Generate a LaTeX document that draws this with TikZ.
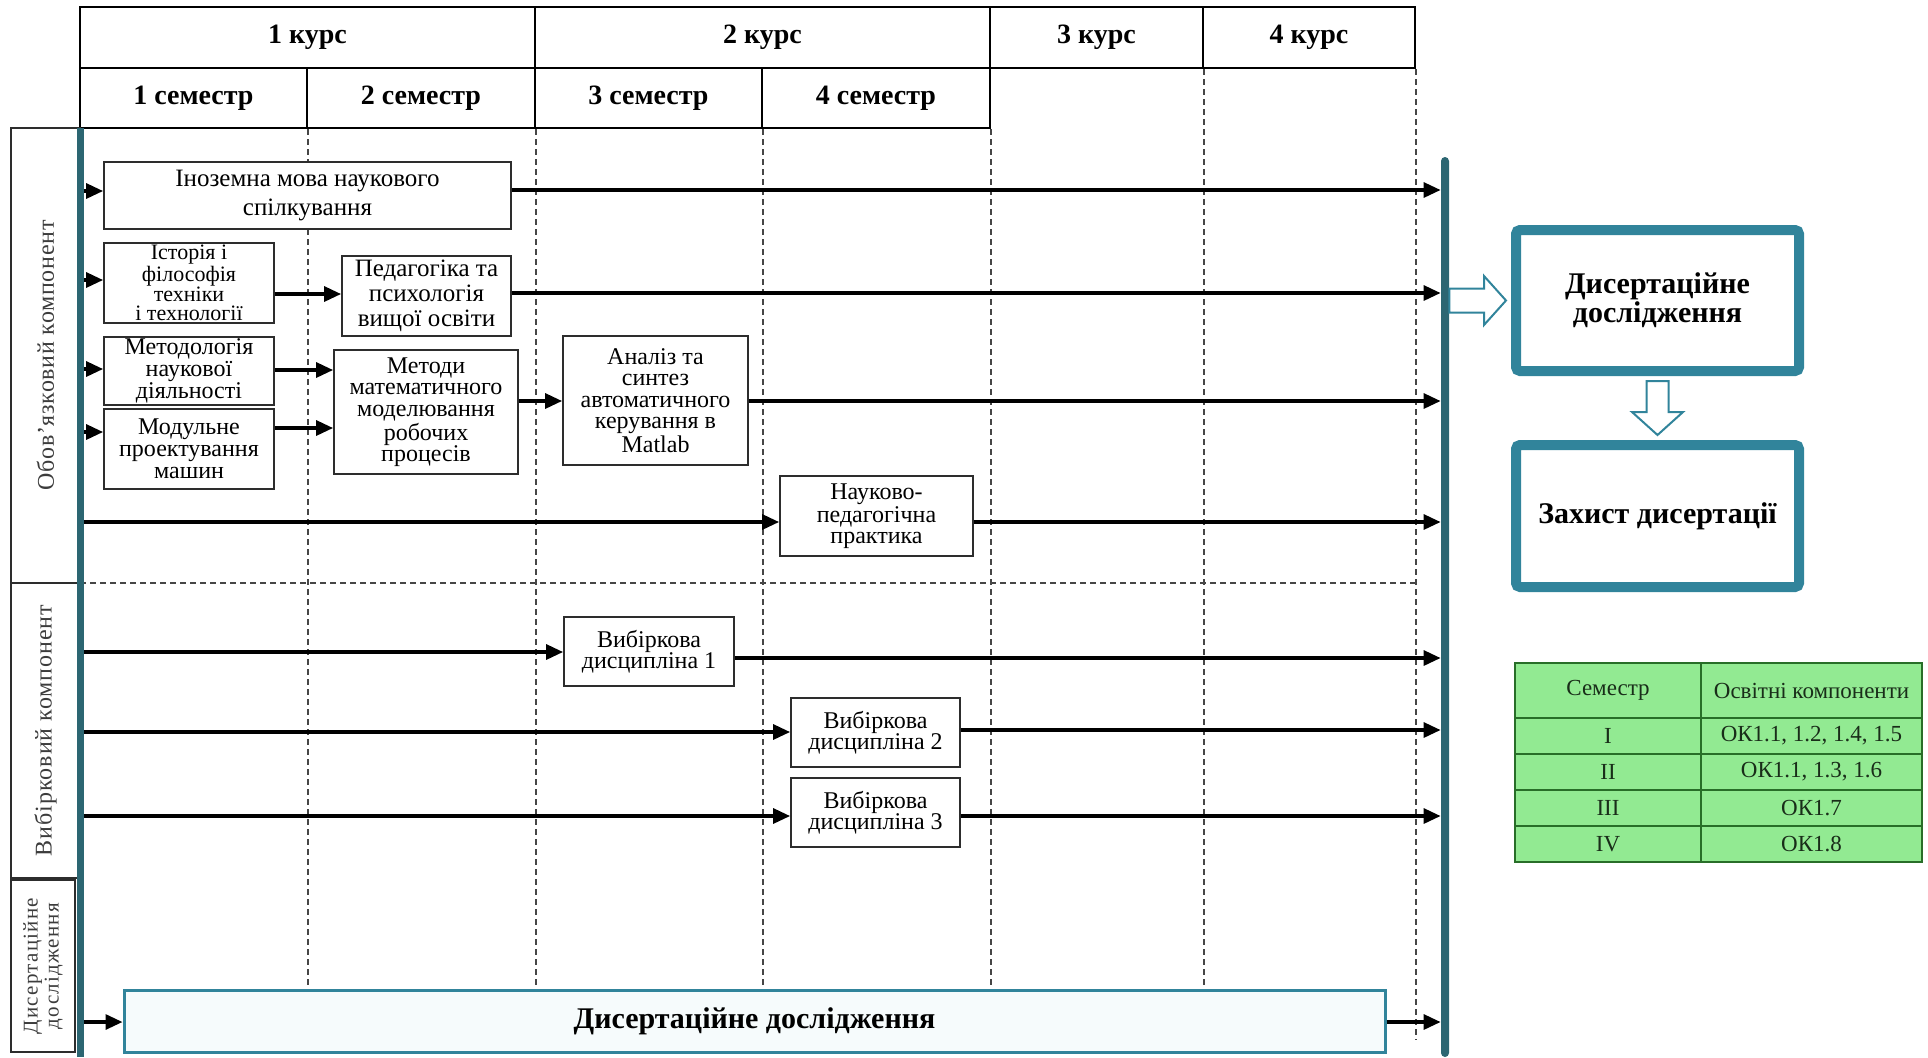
\documentclass[tikz,border=0pt]{standalone}
\usepackage{fontspec}
\setmainfont{Liberation Serif}
\usetikzlibrary{arrows.meta,calc}
\definecolor{tealbar}{RGB}{44,102,114}
\definecolor{tealbox}{RGB}{49,132,155}
\definecolor{tgreen}{RGB}{146,234,146}
\definecolor{tborder}{RGB}{40,110,40}
\definecolor{ttext}{RGB}{25,45,25}
\definecolor{gridc}{RGB}{70,70,70}
\definecolor{boxline}{RGB}{45,45,45}
\definecolor{lanetext}{RGB}{60,60,60}
\definecolor{disfill}{RGB}{246,251,252}
\newcommand{\myfs}[2]{\fontsize{#1}{#2}\selectfont}

\begin{document}
\begin{tikzpicture}[x=0.5pt,y=-0.5pt,
  sz/.style 2 args={minimum width=#1*0.5pt, minimum height=#2*0.5pt},
  hcell/.style={draw=black, line width=1pt, inner sep=0pt, font=\bfseries\myfs{14}{16}},
  lane/.style={draw=boxline, line width=0.7pt, inner sep=0pt, align=center, text=lanetext, rotate=90},
  box/.style={draw=boxline, line width=0.9pt, fill=white, inner sep=0pt, align=center, text=black},
  arr/.style={-{Triangle[length=8.5pt,width=7.5pt]}, line width=1.6pt},
  gridl/.style={draw=gridc, line width=0.6pt, dash pattern=on 3pt off 2pt},
  bar/.style={fill=tealbar, inner sep=0pt, draw=none},
  bigbox/.style={draw=tealbox, line width=5pt, fill=white, rounded corners=2pt, inner sep=0pt, align=center, font=\bfseries\myfs{15}{14.5}},
  hollow/.style={draw=tealbox, line width=1pt, fill=white, line join=miter},
  tcell/.style={draw=tborder, line width=0.6pt, fill=tgreen, inner sep=0pt, text=ttext, font=\myfs{11.5}{13}}
]
\useasboundingbox (0,0) rectangle (1928,1057);

% header
\node[hcell, sz={455}{61}] (k1) at (307.5,37.5) {1 курс};
\node[hcell, sz={455}{61}] (k2) at (762.5,37.5) {2 курс};
\node[hcell, sz={213}{61}] (k3) at (1096.5,37.5) {3 курс};
\node[hcell, sz={212}{61}] (k4) at (1309,37.5) {4 курс};
\node[hcell, sz={227}{60}] (s1) at (193.5,98) {1 семестр};
\node[hcell, sz={228}{60}] (s2) at (421,98) {2 семестр};
\node[hcell, sz={227}{60}] (s3) at (648.5,98) {3 семестр};
\node[hcell, sz={228}{60}] (s4) at (876,98) {4 семестр};

% dashed grid
\draw[gridl] (s1.south east) -- (s1.south east |- 0,989);
\draw[gridl] (s2.south east) -- (s2.south east |- 0,989);
\draw[gridl] (s3.south east) -- (s3.south east |- 0,989);
\draw[gridl] (s4.south east) -- (s4.south east |- 0,989);
\draw[gridl] (k3.south east) -- (k3.south east |- 0,989);
\draw[gridl] (k4.south east) -- (k4.south east |- 0,1040);
\draw[gridl] (80,583) -- (k4.south east |- 0,583);

% lanes
\node[lane, sz={455}{69}, font=\myfs{12}{14}\addfontfeature{LetterSpace=3}] (L1) at (45.5,355.5) {Обов’язковий компонент};
\node[lane, sz={295}{69}, font=\myfs{12}{14}\addfontfeature{LetterSpace=4}] (L2) at (45.5,730.5) {Вибірковий компонент};
\node[lane, sz={172}{64}, font=\myfs{10.5}{10.5}\addfontfeature{LetterSpace=6}] (L3) at (43,966) {Дисертаційне\\дослідження};

% teal bars
\node[bar, sz={7}{929}] (LB) at (80,592.5) {};
\node[bar, sz={8}{900}, rounded corners=2pt] (RB) at (1445,607) {};

% boxes
\node[box, sz={407}{67}, font=\myfs{12.5}{14.5}] (ino) at (307.5,195.5) {Іноземна мова наукового\\спілкування};
\node[box, sz={170}{80}, font=\myfs{11}{9.8}] (ist) at (189,283) {Історія і\\філософія\\техніки\\і технології};
\node[box, sz={169}{80}, font=\myfs{12.5}{12.5}] (ped) at (426.5,296) {Педагогіка та\\психологія\\вищої освіти};
\node[box, sz={170}{68}, font=\myfs{12}{11}] (met) at (189,371) {Методологія\\наукової\\діяльності};
\node[box, sz={170}{80}, font=\myfs{12}{11}] (mod) at (189,449) {Модульне\\проектування\\машин};
\node[box, sz={184}{124}, font=\myfs{12}{10.8}] (mm) at (426,412) {Методи\\математичного\\моделювання\\робочих\\процесів};
\node[box, sz={185}{129}, font=\myfs{12}{10.8}] (an) at (655.5,400.5) {Аналіз та\\синтез\\автоматичного\\керування в\\Matlab};
\node[box, sz={193}{80}, font=\myfs{12}{10.5}] (np) at (876.5,516) {Науково-\\педагогічна\\практика};
\node[box, sz={170}{69}, font=\myfs{12}{10.5}] (v1) at (649,651.5) {Вибіркова\\дисципліна 1};
\node[box, sz={169}{69}, font=\myfs{12}{10.5}] (v2) at (875.5,732.5) {Вибіркова\\дисципліна 2};
\node[box, sz={169}{69}, font=\myfs{12}{10.5}] (v3) at (875.5,812.5) {Вибіркова\\дисципліна 3};
\node[box, draw=tealbox, line width=1.5pt, fill=disfill, sz={1261}{62}, font=\bfseries\myfs{15}{16}] (dis) at (754.5,1021) {Дисертаційне дослідження};

% arrows from left bar
\draw[arr] (LB.east |- 0,191) -- (ino.west |- 0,191);
\draw[arr] (LB.east |- 0,280) -- (ist.west |- 0,280);
\draw[arr] (LB.east |- 0,369) -- (met.west |- 0,369);
\draw[arr] (LB.east |- 0,432) -- (mod.west |- 0,432);
\draw[arr] (LB.east |- 0,522) -- (np.west |- 0,522);
\draw[arr] (LB.east |- 0,652) -- (v1.west |- 0,652);
\draw[arr] (LB.east |- 0,732) -- (v2.west |- 0,732);
\draw[arr] (LB.east |- 0,816) -- (v3.west |- 0,816);
\draw[arr] (LB.east |- 0,1022) -- (dis.west |- 0,1022);

% internal arrows
\draw[arr] (ist.east |- 0,294) -- (ped.west |- 0,294);
\draw[arr] (met.east |- 0,370) -- (mm.west |- 0,370);
\draw[arr] (mod.east |- 0,428) -- (mm.west |- 0,428);
\draw[arr] (mm.east |- 0,401) -- (an.west |- 0,401);

% arrows to right bar
\draw[arr] (ino.east |- 0,190) -- (RB.west |- 0,190);
\draw[arr] (ped.east |- 0,293) -- (RB.west |- 0,293);
\draw[arr] (an.east |- 0,401) -- (RB.west |- 0,401);
\draw[arr] (np.east |- 0,522) -- (RB.west |- 0,522);
\draw[arr] (v1.east |- 0,658) -- (RB.west |- 0,658);
\draw[arr] (v2.east |- 0,730) -- (RB.west |- 0,730);
\draw[arr] (v3.east |- 0,816) -- (RB.west |- 0,816);
\draw[arr] (dis.east |- 0,1022) -- (RB.west |- 0,1022);

% right side boxes
\node[bigbox, sz={283}{141}] (D1) at (1657.5,300.5) {Дисертаційне\\дослідження};
\node[bigbox, sz={283}{142}] (D2) at (1657.5,516) {Захист дисертації};

\coordinate (T1) at ([xshift=-2.5pt]D1.west);
\draw[hollow] ($(RB.east |- T1)+(0,-12)$) -- ($(T1)+(-22,-12)$) -- ($(T1)+(-22,-24.5)$) -- (T1)
  -- ($(T1)+(-22,24.5)$) -- ($(T1)+(-22,12)$) -- ($(RB.east |- T1)+(0,12)$) -- cycle;
\coordinate (T2) at ([yshift=2.5pt]D2.north);
\coordinate (S2) at ([yshift=-2.5pt]D1.south);
\draw[hollow] ($(S2)+(-11,0)$) -- ($(T2)+(-11,-23)$) -- ($(T2)+(-25.5,-23)$) -- (T2)
  -- ($(T2)+(25.5,-23)$) -- ($(T2)+(11,-23)$) -- ($(S2)+(11,0)$) -- cycle;

% table
\node[tcell, sz={186}{55}] (c11) at (1608,690.5) {Семестр};
\node[tcell, sz={221}{55}] (c12) at (1811.5,690.5) {Освітні компоненти};
\node[tcell, sz={186}{36}] (c21) at (1608,736) {I};
\node[tcell, sz={221}{36}] (c22) at (1811.5,736) {ОК1.1, 1.2, 1.4, 1.5};
\node[tcell, sz={186}{36}] (c31) at (1608,772) {II};
\node[tcell, sz={221}{36}] (c32) at (1811.5,772) {ОК1.1, 1.3, 1.6};
\node[tcell, sz={186}{36}] (c41) at (1608,808) {III};
\node[tcell, sz={221}{36}] (c42) at (1811.5,808) {ОК1.7};
\node[tcell, sz={186}{36}] (c51) at (1608,844) {IV};
\node[tcell, sz={221}{36}] (c52) at (1811.5,844) {ОК1.8};
\end{tikzpicture}
\end{document}
